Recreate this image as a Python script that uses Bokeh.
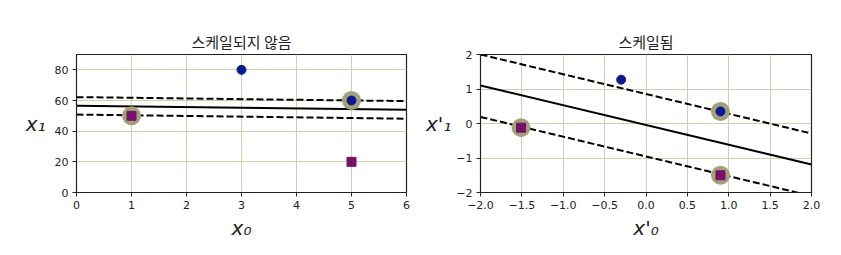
from bokeh.plotting import figure
from bokeh.layouts import row
from bokeh.models import FixedTicker, Range1d
from bokeh.embed import file_html
from bokeh.resources import INLINE

# ---- data ----
# unscaled samples
x0_raw = [1, 5, 3, 5]
x1_raw = [50, 20, 80, 60]
cls = [0, 0, 1, 1]
sv_raw_x = [1, 5]
sv_raw_y = [50, 60]
# decision boundary / margins (unscaled), endpoints at x=0 and x=6
line_raw_x = [0, 6]
bound_raw = [56.6, 53.9]
upper_raw = [62.2, 59.6]
lower_raw = [50.8, 48.1]

# scaled samples
x0_sc = [-1.51, 0.90, -0.30, 0.90]
x1_sc = [-0.12, -1.50, 1.27, 0.35]
sv_sc_x = [-1.51, 0.90, 0.90]
sv_sc_y = [-0.12, 0.35, -1.50]
line_sc_x = [-2, 2]
bound_sc = [1.10, -1.19]
upper_sc = [2.00, -0.29]
lower_sc = [0.19, -2.10]

left_xticks = [0, 1, 2, 3, 4, 5, 6]
left_yticks = [0, 20, 40, 60, 80]
right_xticks = [-2.0, -1.5, -1.0, -0.5, 0.0, 0.5, 1.0, 1.5, 2.0]
right_xlabels = ["\u22122.0", "\u22121.5", "\u22121.0", "\u22120.5", "0.0", "0.5", "1.0", "1.5", "2.0"]
right_yticks = [-2, -1, 0, 1, 2]
right_ylabels = ["\u22122", "\u22121", "0", "1", "2"]

BLUE = "#0c1a8e"
PURPLE = "#751268"
SV = "#a3a07c"
GRID = "#d2ceb2"
INK = "#222222"
TICKFONT = "DejaVu Sans"


def make(title, xr, yr, xticks, yticks, xlabels, ylabels, xlab, ylab,
         width, bl, br, ystand):
    p = figure(width=width, height=255, x_range=Range1d(*xr), y_range=Range1d(*yr),
               output_backend="svg", toolbar_location=None,
               min_border_left=bl, min_border_right=br,
               min_border_top=54, min_border_bottom=63)
    p.title.text = title
    p.title.align = "center"
    p.title.text_font = "Noto Sans CJK KR"
    p.title.text_font_size = "15px"
    p.title.text_font_style = "normal"
    p.title.text_color = INK
    p.title.standoff = 6
    p.outline_line_color = INK
    p.outline_line_width = 1.2
    p.background_fill_color = "white"
    p.border_fill_color = "white"
    for ax, ticks, labels in ((p.xaxis, xticks, xlabels), (p.yaxis, yticks, ylabels)):
        ax.ticker = FixedTicker(ticks=ticks)
        if labels is not None:
            ax.major_label_overrides = {t: l for t, l in zip(ticks, labels)}
        ax.major_label_text_font = TICKFONT
        ax.major_label_text_font_size = "11px"
        ax.major_label_text_color = INK
        ax.axis_line_color = INK
        ax.major_tick_line_color = INK
        ax.major_tick_out = 4
        ax.major_tick_in = 0
        ax.minor_tick_line_color = None
        ax.axis_label_text_font = "DejaVu Sans"
        ax.axis_label_text_font_style = "italic"
        ax.axis_label_text_font_size = "20px"
        ax.axis_label_text_color = INK
    p.xaxis.axis_label = xlab
    p.yaxis.axis_label = ylab
    p.yaxis.axis_label_orientation = "horizontal"
    p.xaxis.axis_label_standoff = 4
    p.yaxis.axis_label_standoff = ystand
    p.xaxis.major_label_standoff = 4
    p.yaxis.major_label_standoff = 4
    p.grid.grid_line_color = GRID
    p.grid.grid_line_width = 1
    return p


p1 = make("스케일되지 않음", (0, 6), (0, 90), left_xticks, left_yticks, None, None,
          "x\u2080", "x\u2081", 420, 76, 14, 6)
p1.line(line_raw_x, bound_raw, line_color="black", line_width=2)
p1.line(line_raw_x, upper_raw, line_color="black", line_width=2, line_dash="7 3")
p1.line(line_raw_x, lower_raw, line_color="black", line_width=2, line_dash="7 3")
p1.scatter(sv_raw_x, sv_raw_y, size=19, fill_color=SV, line_color=None)
bx = [x for x, c in zip(x0_raw, cls) if c == 1]
by = [y for y, c in zip(x1_raw, cls) if c == 1]
mx = [x for x, c in zip(x0_raw, cls) if c == 0]
my = [y for y, c in zip(x1_raw, cls) if c == 0]
p1.scatter(bx, by, size=9, fill_color=BLUE, line_color=BLUE)
p1.scatter(mx, my, marker="square", size=9, fill_color=PURPLE, line_color=PURPLE)

p2 = make("스케일됨", (-2, 2), (-2, 2), right_xticks, right_yticks, right_xlabels, right_ylabels,
          "x'\u2080", "x'\u2081", 421, 60, 30, 2)
p2.line(line_sc_x, bound_sc, line_color="black", line_width=2)
p2.line(line_sc_x, upper_sc, line_color="black", line_width=2, line_dash="7 3")
p2.line(line_sc_x, lower_sc, line_color="black", line_width=2, line_dash="7 3")
p2.scatter(sv_sc_x, sv_sc_y, size=19, fill_color=SV, line_color=None)
bx2 = [x for x, c in zip(x0_sc, cls) if c == 1]
by2 = [y for y, c in zip(x1_sc, cls) if c == 1]
mx2 = [x for x, c in zip(x0_sc, cls) if c == 0]
my2 = [y for y, c in zip(x1_sc, cls) if c == 0]
p2.scatter(bx2, by2, size=9, fill_color=BLUE, line_color=BLUE)
p2.scatter(mx2, my2, marker="square", size=9, fill_color=PURPLE, line_color=PURPLE)

layout = row(p1, p2)
open("out.html", "w").write(file_html(layout, INLINE))
